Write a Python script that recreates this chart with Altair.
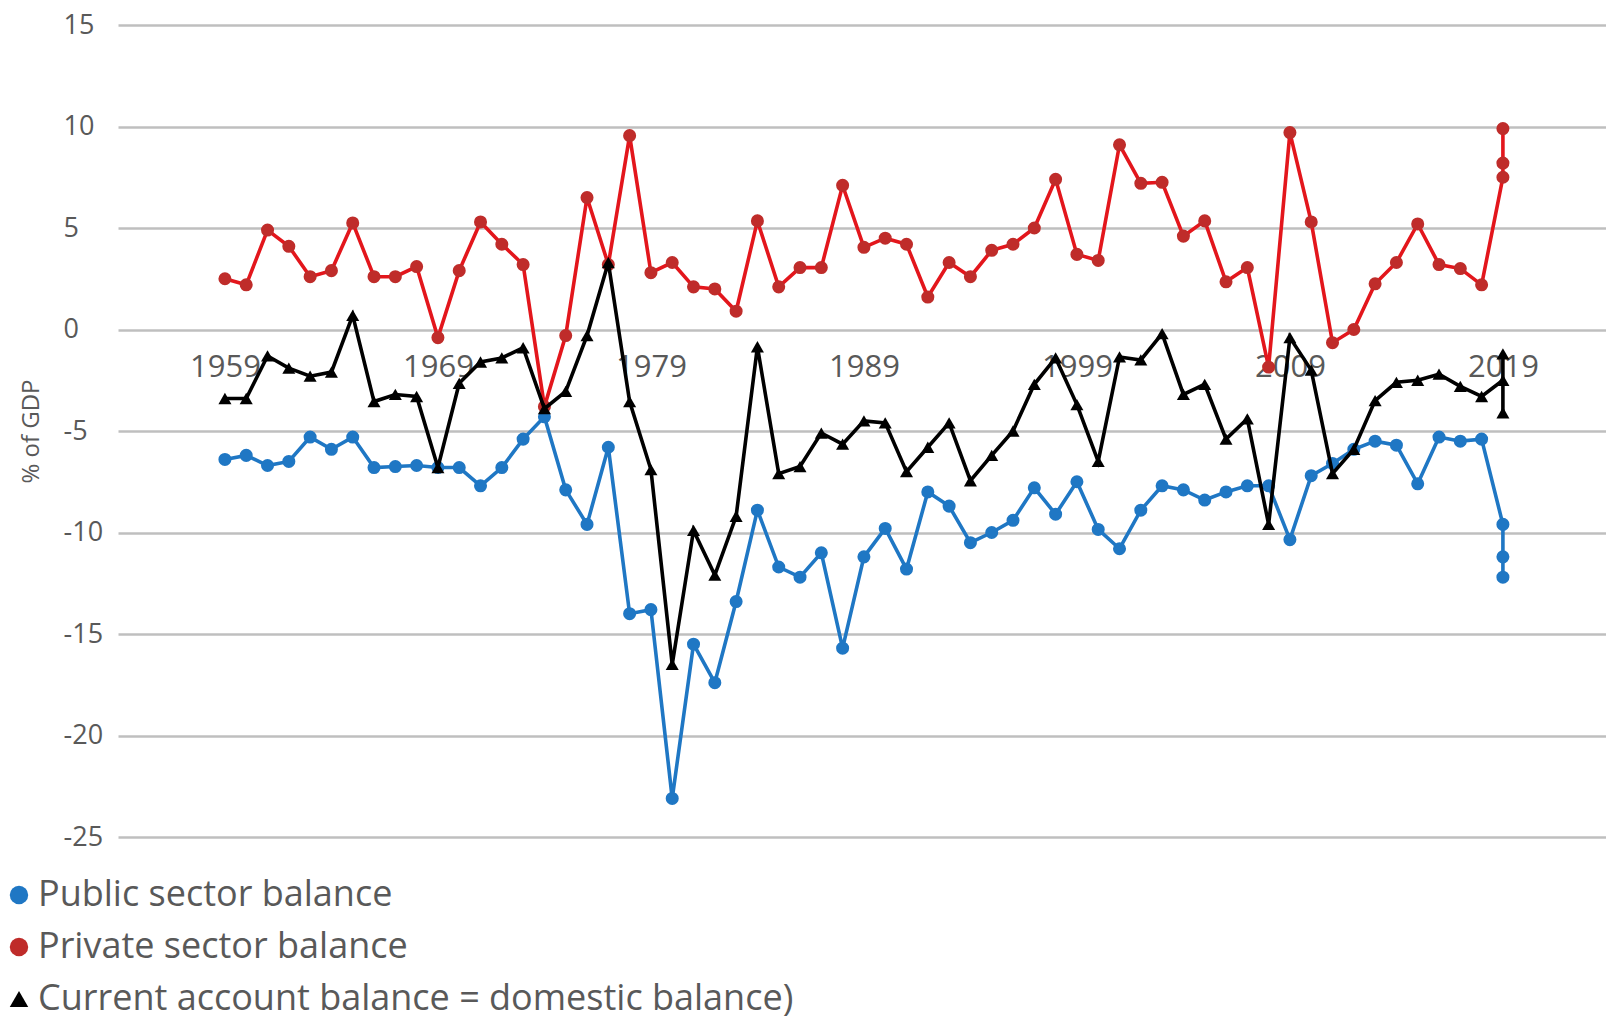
import altair as alt
import pandas as pd

years = list(range(1959, 2019)) + [2019, 2019, 2019]

public_balance = [
    -6.4, -6.2, -6.7, -6.5, -5.3, -5.9, -5.3, -6.8, -6.75, -6.7,
    -6.8, -6.8, -7.7, -6.8, -5.4, -4.3, -7.9, -9.6, -5.8, -14.0,
    -13.8, -23.1, -15.5, -17.4, -13.4, -8.9, -11.7, -12.2, -11.0, -15.7,
    -11.2, -9.8, -11.8, -8.0, -8.7, -10.5, -10.0, -9.4, -7.8, -9.1,
    -7.5, -9.85, -10.8, -8.9, -7.7, -7.9, -8.4, -8.0, -7.7, -7.7,
    -10.35, -7.2, -6.6, -5.9, -5.5, -5.7, -7.6, -5.3, -5.5, -5.4,
    -9.6, -11.2, -12.2,
]

private_balance = [
    2.5, 2.2, 4.9, 4.1, 2.6, 2.9, 5.25, 2.6, 2.6, 3.1,
    -0.4, 2.9, 5.3, 4.2, 3.2, -3.8, -0.3, 6.5, 3.2, 9.55,
    2.8, 3.3, 2.1, 2.0, 0.9, 5.35, 2.1, 3.05, 3.05, 7.1,
    4.05, 4.5, 4.2, 1.6, 3.3, 2.6, 3.9, 4.2, 5.0, 7.4,
    3.7, 3.4, 9.1, 7.2, 7.25, 4.6, 5.35, 2.35, 3.05, -1.85,
    9.7, 5.3, -0.65, 0.0, 2.25, 3.3, 5.2, 3.2, 3.0, 2.2,
    7.5, 8.2, 9.9,
]

current_account = [
    -3.4, -3.4, -1.3, -1.9, -2.3, -2.1, 0.7, -3.55, -3.2, -3.3,
    -6.8, -2.65, -1.6, -1.4, -0.9, -3.9, -3.05, -0.3, 3.3, -3.55,
    -6.9, -16.5, -9.9, -12.1, -9.2, -0.85, -7.1, -6.75, -5.1, -5.65,
    -4.5, -4.6, -7.0, -5.8, -4.6, -7.45, -6.2, -5.0, -2.7, -1.4,
    -3.7, -6.5, -1.35, -1.5, -0.2, -3.2, -2.7, -5.4, -4.4, -9.6,
    -0.4, -2.0, -7.1, -5.9, -3.5, -2.6, -2.5, -2.2, -2.8, -3.3,
    -2.5, -1.2, -4.1,
]

series_names = [
    "Public sector balance",
    "Private sector balance",
    "Current account balance = domestic balance)",
]
x_tick_labels = [1959, 1969, 1979, 1989, 1999, 2009, 2019]
y_tick_labels = [15, 10, 5, 0, -5, -10, -15, -20, -25]

line_colors = ["#1f77c4", "#e3161c", "#000000"]
marker_colors = ["#1f77c4", "#bf2c2a", "#000000"]
marker_shapes = ["circle", "circle", "triangle-up"]

rows = []
for name, vals in zip(series_names, [public_balance, private_balance, current_account]):
    for i, (yr, v) in enumerate(zip(years, vals)):
        rows.append({"year": yr, "value": v, "series": name, "idx": i})
df = pd.DataFrame(rows)

FONT = "Open Sans"
GRAY = "#595959"

x_enc = alt.X(
    "year:Q",
    scale=alt.Scale(domain=[1953.98, 2023.84], nice=False, zero=False),
    axis=alt.Axis(
        values=x_tick_labels,
        format="d",
        title=None,
        grid=False,
        domain=False,
        ticks=False,
        tickSize=0,
        offset=-507.5,
        labelPadding=23,
        labelFontSize=31,
        labelFont=FONT,
        labelColor=GRAY,
        labelFlush=False,
        labelOverlap=False,
    ),
)
y_enc = alt.Y(
    "value:Q",
    scale=alt.Scale(domain=[-25, 15], nice=False, zero=False),
    axis=alt.Axis(
        values=y_tick_labels,
        labelExpr="'' + datum.value",
        title="% of GDP",
        titleFont=FONT,
        titleFontSize=24,
        titleFontWeight="normal",
        titleColor=GRAY,
        titleAngle=270,
        titleX=-87,
        titleY=406,
        titleAlign="center",
        titleBaseline="middle",
        grid=True,
        gridColor="#bfbfbf",
        gridWidth=2.5,
        domain=False,
        ticks=False,
        tickSize=0,
        labelAlign="left",
        labelBaseline="middle",
        labelPadding=55,
        labelFontSize=27,
        labelFont=FONT,
        labelColor=GRAY,
    ),
)

color_scale = alt.Scale(domain=series_names, range=marker_colors)
shape_scale = alt.Scale(domain=series_names, range=marker_shapes)

legend = alt.Legend(
    title=None,
    orient="none",
    legendX=-117,
    legendY=852,
    direction="vertical",
    columns=1,
    padding=0,
    labelFont=FONT,
    labelFontSize=36,
    labelColor=GRAY,
    labelLimit=2000,
    labelOffset=1,
    symbolSize=340,
    rowPadding=16,
    symbolStrokeWidth=0,
)

layers = []
for name, lc in zip(series_names, line_colors):
    base = alt.Chart(df).transform_filter(alt.datum.series == name)
    line = base.mark_line(strokeWidth=3.6, color=lc).encode(
        x=x_enc, y=y_enc, order=alt.Order("idx:Q")
    )
    pts = base.mark_point(filled=True, opacity=1, size=170).encode(
        x=x_enc,
        y=y_enc,
        color=alt.Color("series:N", scale=color_scale, legend=legend),
        shape=alt.Shape("series:N", scale=shape_scale, legend=legend),
    )
    layers += [line, pts]

chart = (
    alt.layer(*layers)
    .properties(
        width=1488,
        height=812,
        padding={"left": 118, "top": 25, "right": 0, "bottom": 184},
        autosize=alt.AutoSizeParams(type="none"),
        background="white",
    )
    .configure_view(stroke=None)
)

chart.save("out.html", embed_options={"renderer": "svg", "actions": False})
